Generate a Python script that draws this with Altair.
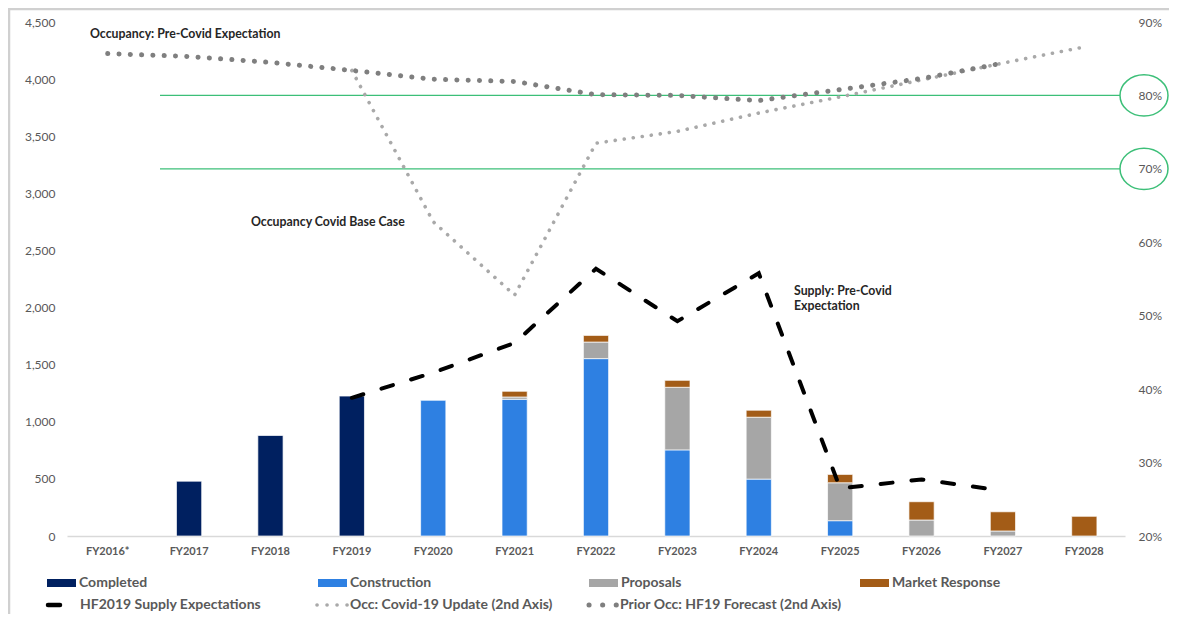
import altair as alt
import pandas as pd

# ---------------- data ----------------
years = ["FY2016*", "FY2017", "FY2018", "FY2019", "FY2020", "FY2021", "FY2022",
         "FY2023", "FY2024", "FY2025", "FY2026", "FY2027", "FY2028"]
completed    = [0, 480, 880, 1225, 0, 0, 0, 0, 0, 0, 0, 0, 0]
construction = [0, 0, 0, 0, 1188, 1197, 1553, 754, 498, 134, 0, 0, 0]
proposals    = [0, 0, 0, 0, 0, 20, 145, 548, 542, 332, 140, 44, 0]
market       = [0, 0, 0, 0, 0, 50, 58, 61, 61, 73, 160, 168, 172]

supply_exp   = [None, None, None, 1210, 1430, 1690, 2340, 1880, 2300, 417, 495, 396, None]
occ_covid    = [None, None, None, 83.4, 62.8, 52.8, 73.5, 75.1, 77.6, 79.8, 82.1, 84.4, 86.6]
occ_prior    = [85.7, 85.3, 84.5, 83.4, 82.2, 81.9, 80.1, 80.0, 79.3, 80.8, 82.3, 84.4, None]
occ_targets  = [80, 70]

bar_cats   = ["Completed", "Construction", "Proposals", "Market Response"]
bar_colors = ["#002060", "#2E80E2", "#A6A6A6", "#A35C17"]

line_labels = ["HF2019 Supply Expectations", "Occ: Covid-19 Update (2nd Axis)",
               "Prior Occ: HF19 Forecast (2nd Axis)"]
annotations = ["Occupancy: Pre-Covid Expectation", "Occupancy Covid Base Case",
               "Supply: Pre-Covid\nExpectation"]

# ---------------- style ----------------
FONT = "Lato"
TXT = "#595959"
GREEN = "#3CBF78"
W, H = 1058, 514

rows = []
for i, yr in enumerate(years):
    for k, (cat, vals) in enumerate(zip(bar_cats, [completed, construction, proposals, market])):
        rows.append({"year": yr, "cat": cat, "ord": k, "value": vals[i]})
bars_df = pd.DataFrame(rows)

supply_df = pd.DataFrame({"year": years, "supply": supply_exp}).dropna()
covid_df = pd.DataFrame({"year": years, "occ": [None if v is None else v / 100 for v in occ_covid]}).dropna()
prior_df = pd.DataFrame({"year": years, "occ": [None if v is None else v / 100 for v in occ_prior]}).dropna()
target_df = pd.DataFrame({"level": [v / 100 for v in occ_targets]})

x_axis = alt.Axis(title=None, labelAngle=0, labelFont=FONT, labelFontSize=11,
                  labelFontWeight="bold", labelColor=TXT, ticks=False,
                  domainColor="#D9D9D9", domainWidth=1.5, labelPadding=9)
x_enc = alt.X("year:N", sort=years,
              scale=alt.Scale(domain=years, paddingInner=0.69, paddingOuter=0.345),
              axis=x_axis)

left_scale = alt.Scale(domain=[0, 4500], nice=False)
left_axis = alt.Axis(title=None, values=list(range(0, 4501, 500)), format=",.0f",
                     labelFont=FONT, labelFontSize=12, labelColor=TXT, ticks=False,
                     domain=False, grid=False, labelPadding=12)
right_scale = alt.Scale(domain=[0.2, 0.9], nice=False)
right_axis = alt.Axis(title=None, orient="right", values=[0.2, 0.3, 0.4, 0.5, 0.6, 0.7, 0.8, 0.9],
                      format=".0%", labelFont=FONT, labelFontSize=12, labelColor=TXT,
                      ticks=False, domain=False, grid=False, labelPadding=13)

bars = alt.Chart(bars_df).transform_filter("datum.value > 0").mark_bar(
    stroke="white", strokeWidth=0.7
).encode(
    x=x_enc,
    y=alt.Y("value:Q", stack="zero", scale=left_scale, axis=left_axis),
    color=alt.Color("cat:N", scale=alt.Scale(domain=bar_cats, range=bar_colors), legend=None),
    order=alt.Order("ord:Q", sort="ascending"),
)

supply = alt.Chart(supply_df).mark_line(
    color="black", strokeWidth=4, strokeDash=[12, 19], strokeCap="round"
).encode(x=x_enc, y=alt.Y("supply:Q", scale=left_scale, axis=left_axis))

left = alt.layer(bars, supply)

rules = alt.Chart(target_df).mark_rule(color=GREEN, strokeWidth=1.3).encode(
    x=alt.value(93), x2=alt.value(1053),
    y=alt.Y("level:Q", scale=right_scale, axis=right_axis),
)
ellipse_path = "M -1 0 A 1 0.86 0 1 1 1 0 A 1 0.86 0 1 1 -1 0 Z"
ellipses = alt.Chart(target_df).mark_point(
    shape=ellipse_path, size=2304, filled=False, color=GREEN, strokeWidth=1.5, opacity=1
).encode(x=alt.value(1077), y=alt.Y("level:Q", scale=right_scale, axis=right_axis))

covid = alt.Chart(covid_df).mark_line(
    color="#A9A9A9", strokeWidth=3.6, strokeDash=[0.1, 9], strokeCap="round"
).encode(x=x_enc, y=alt.Y("occ:Q", scale=right_scale, axis=right_axis))

prior = alt.Chart(prior_df).mark_line(
    color="#7F7F7F", strokeWidth=5, strokeDash=[0.1, 11.2], strokeCap="round"
).encode(x=x_enc, y=alt.Y("occ:Q", scale=right_scale, axis=right_axis))

right = alt.layer(rules, ellipses, covid, prior)

# ---------------- annotations ----------------
ann_pos = [(23, 12), (184, 200), (727, 269)]
ann_layers = []
for txt, (ax, ay) in zip(annotations, ann_pos):
    ann_layers.append(
        alt.Chart(pd.DataFrame({"t": [txt]})).mark_text(
            align="left", baseline="middle", font=FONT, fontSize=12.3, fontWeight="bold",
            color="#262626", lineBreak="\n", lineHeight=15
        ).encode(x=alt.value(ax), y=alt.value(ay), text="t:N")
    )

# ---------------- frame ----------------
frame = [
    alt.Chart(pd.DataFrame({"a": [0]})).mark_rule(color="#D0D0D0", strokeWidth=2.5).encode(
        x=alt.value(-59), x2=alt.value(1108), y=alt.value(-13)),
    alt.Chart(pd.DataFrame({"a": [0]})).mark_rule(color="#D0D0D0", strokeWidth=2.5).encode(
        x=alt.value(-58), y=alt.value(-14), y2=alt.value(620)),
]

# ---------------- legend ----------------
leg = []
row1_y, row2_y = 561, 583
for k, (lab, col) in enumerate(zip(bar_cats, bar_colors)):
    x0 = -20 + 271 * k
    leg.append(alt.Chart(pd.DataFrame({"a": [0]})).mark_rect(color=col).encode(
        x=alt.value(x0), x2=alt.value(x0 + 29), y=alt.value(row1_y - 4), y2=alt.value(row1_y + 4)))
    leg.append(alt.Chart(pd.DataFrame({"t": [lab]})).mark_text(
        align="left", baseline="middle", font=FONT, fontSize=14, fontWeight="bold", color=TXT
    ).encode(x=alt.value(x0 + 32), y=alt.value(row1_y), text="t:N"))

line_styles = [
    dict(color="black", strokeWidth=4.5, strokeCap="round", x0=-19, x1=-7),
    dict(color="#A9A9A9", strokeWidth=3.6, strokeCap="round", strokeDash=[0.1, 9.9], x0=250, x1=281),
    dict(color="#7F7F7F", strokeWidth=5, strokeCap="round", strokeDash=[0.1, 13.5], x0=522, x1=550),
]
for k, (lab, st) in enumerate(zip(line_labels, line_styles)):
    st = dict(st)
    sx0, sx1 = st.pop("x0"), st.pop("x1")
    leg.append(alt.Chart(pd.DataFrame({"a": [0]})).mark_rule(**st).encode(
        x=alt.value(sx0), x2=alt.value(sx1), y=alt.value(row2_y)))
    leg.append(alt.Chart(pd.DataFrame({"t": [lab]})).mark_text(
        align="left", baseline="middle", font=FONT, fontSize=14, fontWeight="bold", color=TXT
    ).encode(x=alt.value(13 + 270 * k), y=alt.value(row2_y), text="t:N"))

chart = alt.layer(
    *frame, left, right, *ann_layers, *leg
).resolve_scale(y="independent").properties(
    width=W, height=H,
    autosize=alt.AutoSizeParams(type="none"),
    padding={"left": 59, "top": 14, "right": 44, "bottom": 78},
    background="white",
).configure_view(stroke=None)

chart.save("out.html", embed_options={"renderer": "svg", "actions": False})
